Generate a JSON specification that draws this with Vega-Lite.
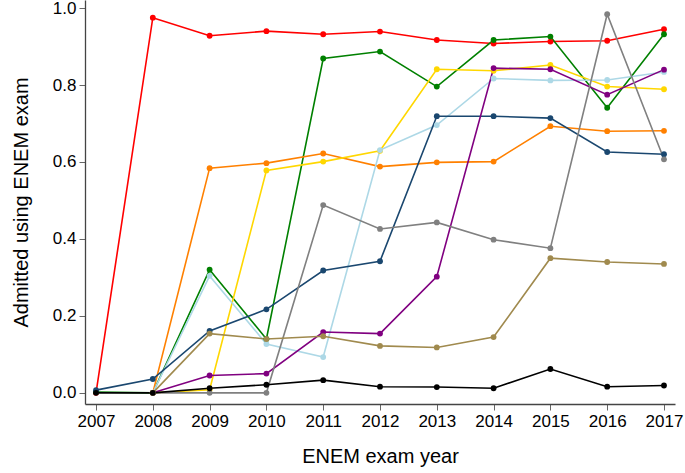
{
  "$schema": "https://vega.github.io/schema/vega-lite/v6.json",
  "width": 590,
  "height": 404,
  "autosize": "none",
  "padding": {"left": 85, "top": 0, "right": 10, "bottom": 69},
  "background": "white",
  "config": {
    "view": {"stroke": null},
    "font": "Liberation Sans",
    "axis": {
      "grid": false,
      "labelFont": "Liberation Sans",
      "titleFont": "Liberation Sans",
      "labelFontSize": 17,
      "titleFontSize": 20,
      "titleFontWeight": "normal",
      "labelColor": "#000000",
      "titleColor": "#000000",
      "domainColor": "#444444",
      "domainWidth": 1.3,
      "tickColor": "#666666",
      "tickSize": 6
    }
  },
  "data": {
    "values": [
      {"group": "Red", "year": 2007, "share": 0.0},
      {"group": "Red", "year": 2008, "share": 0.975},
      {"group": "Red", "year": 2009, "share": 0.928},
      {"group": "Red", "year": 2010, "share": 0.94},
      {"group": "Red", "year": 2011, "share": 0.932},
      {"group": "Red", "year": 2012, "share": 0.939},
      {"group": "Red", "year": 2013, "share": 0.917},
      {"group": "Red", "year": 2014, "share": 0.908},
      {"group": "Red", "year": 2015, "share": 0.913},
      {"group": "Red", "year": 2016, "share": 0.915},
      {"group": "Red", "year": 2017, "share": 0.945},

      {"group": "Green", "year": 2007, "share": 0.002},
      {"group": "Green", "year": 2008, "share": 0.0},
      {"group": "Green", "year": 2009, "share": 0.32},
      {"group": "Green", "year": 2010, "share": 0.14},
      {"group": "Green", "year": 2011, "share": 0.869},
      {"group": "Green", "year": 2012, "share": 0.887},
      {"group": "Green", "year": 2013, "share": 0.796},
      {"group": "Green", "year": 2014, "share": 0.917},
      {"group": "Green", "year": 2015, "share": 0.926},
      {"group": "Green", "year": 2016, "share": 0.741},
      {"group": "Green", "year": 2017, "share": 0.932},

      {"group": "Orange", "year": 2008, "share": 0.0},
      {"group": "Orange", "year": 2009, "share": 0.584},
      {"group": "Orange", "year": 2010, "share": 0.597},
      {"group": "Orange", "year": 2011, "share": 0.622},
      {"group": "Orange", "year": 2012, "share": 0.588},
      {"group": "Orange", "year": 2013, "share": 0.599},
      {"group": "Orange", "year": 2014, "share": 0.601},
      {"group": "Orange", "year": 2015, "share": 0.693},
      {"group": "Orange", "year": 2016, "share": 0.68},
      {"group": "Orange", "year": 2017, "share": 0.681},

      {"group": "Yellow", "year": 2008, "share": 0.0},
      {"group": "Yellow", "year": 2009, "share": 0.008},
      {"group": "Yellow", "year": 2010, "share": 0.578},
      {"group": "Yellow", "year": 2011, "share": 0.601},
      {"group": "Yellow", "year": 2012, "share": 0.629},
      {"group": "Yellow", "year": 2013, "share": 0.841},
      {"group": "Yellow", "year": 2014, "share": 0.837},
      {"group": "Yellow", "year": 2015, "share": 0.852},
      {"group": "Yellow", "year": 2016, "share": 0.796},
      {"group": "Yellow", "year": 2017, "share": 0.789},

      {"group": "LightBlue", "year": 2008, "share": 0.0},
      {"group": "LightBlue", "year": 2009, "share": 0.304},
      {"group": "LightBlue", "year": 2010, "share": 0.127},
      {"group": "LightBlue", "year": 2011, "share": 0.093},
      {"group": "LightBlue", "year": 2012, "share": 0.631},
      {"group": "LightBlue", "year": 2013, "share": 0.696},
      {"group": "LightBlue", "year": 2014, "share": 0.817},
      {"group": "LightBlue", "year": 2015, "share": 0.812},
      {"group": "LightBlue", "year": 2016, "share": 0.813},
      {"group": "LightBlue", "year": 2017, "share": 0.834},

      {"group": "Navy", "year": 2007, "share": 0.007},
      {"group": "Navy", "year": 2008, "share": 0.036},
      {"group": "Navy", "year": 2009, "share": 0.161},
      {"group": "Navy", "year": 2010, "share": 0.217},
      {"group": "Navy", "year": 2011, "share": 0.318},
      {"group": "Navy", "year": 2012, "share": 0.342},
      {"group": "Navy", "year": 2013, "share": 0.719},
      {"group": "Navy", "year": 2014, "share": 0.719},
      {"group": "Navy", "year": 2015, "share": 0.714},
      {"group": "Navy", "year": 2016, "share": 0.626},
      {"group": "Navy", "year": 2017, "share": 0.62},

      {"group": "Purple", "year": 2008, "share": 0.0},
      {"group": "Purple", "year": 2009, "share": 0.045},
      {"group": "Purple", "year": 2010, "share": 0.05},
      {"group": "Purple", "year": 2011, "share": 0.158},
      {"group": "Purple", "year": 2012, "share": 0.154},
      {"group": "Purple", "year": 2013, "share": 0.302},
      {"group": "Purple", "year": 2014, "share": 0.844},
      {"group": "Purple", "year": 2015, "share": 0.841},
      {"group": "Purple", "year": 2016, "share": 0.775},
      {"group": "Purple", "year": 2017, "share": 0.84},

      {"group": "Gray", "year": 2008, "share": 0.0},
      {"group": "Gray", "year": 2009, "share": 0.0},
      {"group": "Gray", "year": 2010, "share": 0.0},
      {"group": "Gray", "year": 2011, "share": 0.488},
      {"group": "Gray", "year": 2012, "share": 0.426},
      {"group": "Gray", "year": 2013, "share": 0.443},
      {"group": "Gray", "year": 2014, "share": 0.398},
      {"group": "Gray", "year": 2015, "share": 0.376},
      {"group": "Gray", "year": 2016, "share": 0.984},
      {"group": "Gray", "year": 2017, "share": 0.607},

      {"group": "Khaki", "year": 2008, "share": 0.0},
      {"group": "Khaki", "year": 2009, "share": 0.154},
      {"group": "Khaki", "year": 2010, "share": 0.14},
      {"group": "Khaki", "year": 2011, "share": 0.147},
      {"group": "Khaki", "year": 2012, "share": 0.122},
      {"group": "Khaki", "year": 2013, "share": 0.118},
      {"group": "Khaki", "year": 2014, "share": 0.145},
      {"group": "Khaki", "year": 2015, "share": 0.35},
      {"group": "Khaki", "year": 2016, "share": 0.34},
      {"group": "Khaki", "year": 2017, "share": 0.335},

      {"group": "Black", "year": 2007, "share": 0.0},
      {"group": "Black", "year": 2008, "share": 0.0},
      {"group": "Black", "year": 2009, "share": 0.012},
      {"group": "Black", "year": 2010, "share": 0.021},
      {"group": "Black", "year": 2011, "share": 0.033},
      {"group": "Black", "year": 2012, "share": 0.016},
      {"group": "Black", "year": 2013, "share": 0.015},
      {"group": "Black", "year": 2014, "share": 0.012},
      {"group": "Black", "year": 2015, "share": 0.062},
      {"group": "Black", "year": 2016, "share": 0.016},
      {"group": "Black", "year": 2017, "share": 0.019}
    ]
  },
  "encoding": {
    "x": {
      "field": "year",
      "type": "quantitative",
      "title": "ENEM exam year",
      "scale": {"domain": [2006.806, 2017.194], "nice": false, "zero": false},
      "axis": {
        "values": [2007, 2008, 2009, 2010, 2011, 2012, 2013, 2014, 2015, 2016, 2017],
        "format": "d",
        "labelPadding": 3,
        "titlePadding": 17
      }
    },
    "y": {
      "field": "share",
      "type": "quantitative",
      "title": "Admitted using ENEM exam",
      "scale": {"domain": [-0.029, 1.021], "nice": false, "zero": false},
      "axis": {
        "values": [0, 0.2, 0.4, 0.6, 0.8, 1.0],
        "format": ".1f",
        "labelPadding": 3,
        "titlePadding": 21
      }
    },
    "color": {
      "field": "group",
      "type": "nominal",
      "legend": null,
      "scale": {
        "domain": ["Red", "Green", "Orange", "Yellow", "LightBlue", "Navy", "Purple", "Gray", "Khaki", "Black"],
        "range": ["#ff0000", "#008000", "#ff8000", "#ffd700", "#add8e6", "#1a476f", "#800080", "#808080", "#a08a4e", "#000000"]
      }
    }
  },
  "layer": [
    {"mark": {"type": "line", "strokeWidth": 1.6}},
    {"mark": {"type": "point", "filled": true, "opacity": 1, "size": 34}}
  ]
}
